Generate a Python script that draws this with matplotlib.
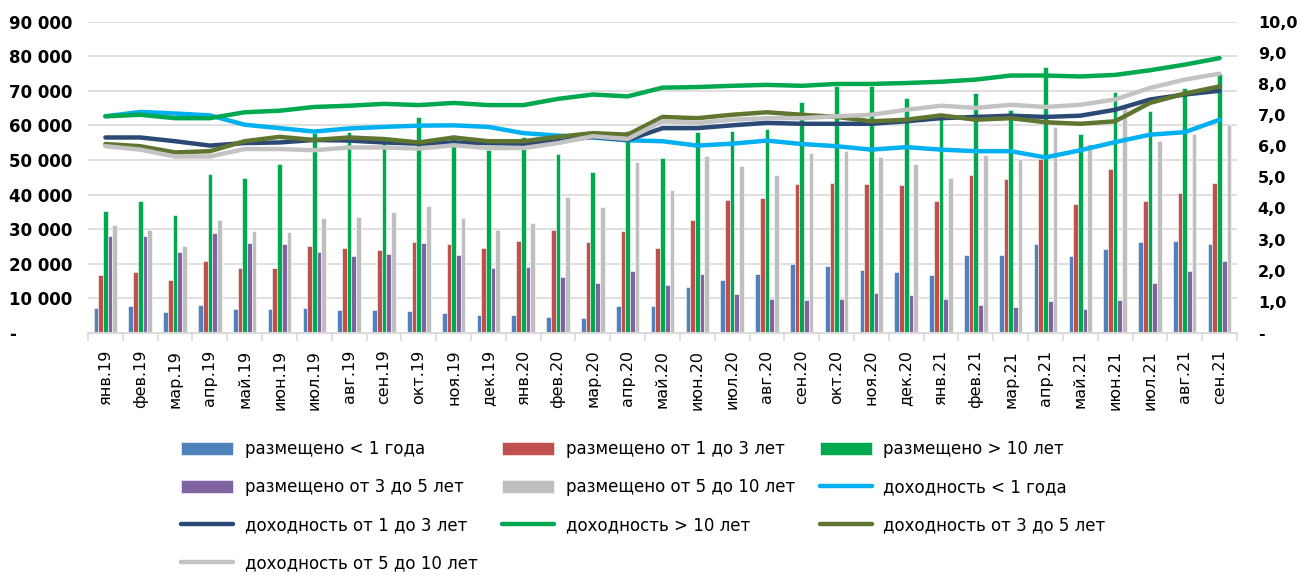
"""
Placement volumes and yields by maturity, monthly
"""
import numpy as np
import matplotlib
matplotlib.use("Agg")
import matplotlib.pyplot as plt
from matplotlib.ticker import FuncFormatter, FixedLocator

months = ["янв.19", "фев.19", "мар.19", "апр.19", "май.19", "июн.19", "июл.19",
          "авг.19", "сен.19", "окт.19", "ноя.19", "дек.19", "янв.20", "фев.20",
          "мар.20", "апр.20", "май.20", "июн.20", "июл.20", "авг.20", "сен.20",
          "окт.20", "ноя.20", "дек.20", "янв.21", "фев.21", "мар.21", "апр.21",
          "май.21", "июн.21", "июл.21", "авг.21", "сен.21"]

placed_lt1 = [7200, 7800, 6050, 8000, 6900, 7000, 7200, 6600, 6700, 6400, 5750,
              5300, 5200, 4600, 4200, 7900, 7900, 13300, 15350, 17100, 19900, 19500,
              18300, 17500, 16800, 22450, 22550, 25600, 22300, 24400, 26300, 26500, 25800]
placed_1_3 = [16800, 17750, 15250, 20700, 18700, 18900, 25100, 24600, 23900, 26200, 25600,
              24600, 26600, 29750, 26300, 29500, 24500, 32700, 38400, 39000, 43000, 43400,
              43100, 42800, 38100, 45800, 44400, 50200, 37200, 47500, 38300, 40500, 43300]
placed_gt10 = [35200, 38100, 34000, 46000, 44700, 48750, 57800, 58000, 55500, 62300, 57200,
               52900, 56600, 51650, 46450, 58500, 50500, 58200, 58400, 59000, 66700, 71500,
               71500, 67900, 62500, 69500, 64600, 76800, 57400, 69550, 64250, 70700, 75000]
placed_3_5 = [28000, 27900, 23400, 28900, 26100, 25600, 23300, 22300, 22800, 26000, 22500,
              18900, 19200, 16100, 14500, 17950, 13800, 17000, 11300, 9800, 9500, 9900,
              11500, 10900, 9900, 8000, 7600, 9300, 7000, 9400, 14500, 17950, 20700]
placed_5_10 = [31100, 29650, 25150, 32600, 29500, 29300, 33100, 33500, 34900, 36750, 33200,
               29900, 31800, 39350, 36400, 49300, 41400, 51250, 48400, 45600, 51900, 52500,
               50900, 48750, 44700, 51350, 50200, 59600, 54700, 66000, 55600, 57500, 60100]

yield_lt1 = [6.96, 7.1, 7.05, 6.99, 6.69, 6.58, 6.47, 6.57, 6.62, 6.66, 6.67, 6.62, 6.42,
             6.34, 6.28, 6.19, 6.16, 6.02, 6.08, 6.18, 6.07, 6.0, 5.89, 5.97, 5.89, 5.84,
             5.84, 5.64, 5.87, 6.13, 6.37, 6.45, 6.85]
yield_1_3 = [6.28, 6.28, 6.16, 6.02, 6.1, 6.12, 6.2, 6.18, 6.12, 6.08, 6.12, 6.1, 6.08,
             6.16, 6.3, 6.2, 6.58, 6.58, 6.67, 6.75, 6.72, 6.72, 6.72, 6.8, 6.9, 6.94,
             6.98, 6.94, 6.98, 7.17, 7.5, 7.66, 7.78]
yield_gt10 = [6.96, 7.01, 6.9, 6.9, 7.09, 7.14, 7.26, 7.3, 7.36, 7.32, 7.39, 7.32, 7.32,
              7.52, 7.66, 7.6, 7.88, 7.9, 7.94, 7.97, 7.94, 8.0, 8.0, 8.03, 8.07, 8.14,
              8.27, 8.27, 8.24, 8.29, 8.44, 8.62, 8.83]
yield_3_5 = [6.07, 6.0, 5.8, 5.84, 6.16, 6.3, 6.2, 6.28, 6.23, 6.12, 6.28, 6.16, 6.16,
             6.3, 6.42, 6.37, 6.94, 6.9, 7.01, 7.09, 7.01, 6.94, 6.8, 6.85, 6.99, 6.85,
             6.9, 6.77, 6.72, 6.8, 7.39, 7.69, 7.92]
yield_5_10 = [6.0, 5.89, 5.67, 5.67, 5.91, 5.91, 5.87, 5.96, 5.96, 5.92, 6.03, 5.94, 5.94,
              6.1, 6.32, 6.23, 6.8, 6.75, 6.85, 6.9, 6.9, 6.96, 7.01, 7.17, 7.3, 7.23,
              7.33, 7.26, 7.33, 7.5, 7.87, 8.14, 8.33]

bar_series = [
    ("размещено < 1 года", placed_lt1, "#4f81bd"),
    ("размещено от 1 до 3 лет", placed_1_3, "#c0504d"),
    ("размещено > 10 лет", placed_gt10, "#00a84f"),
    ("размещено от 3 до 5 лет", placed_3_5, "#8064a2"),
    ("размещено от 5 до 10 лет", placed_5_10, "#bfbfbf"),
]
line_series = [
    ("доходность < 1 года", yield_lt1, "#00b0f0"),
    ("доходность от 1 до 3 лет", yield_1_3, "#2a4a75"),
    ("доходность > 10 лет", yield_gt10, "#00a84f"),
    ("доходность от 3 до 5 лет", yield_3_5, "#5f7530"),
    ("доходность от 5 до 10 лет", yield_5_10, "#c3c3c3"),
]

plt.rcParams["font.family"] = ["DejaVu Sans"]

fig = plt.figure(figsize=(13, 5.75), dpi=100)
ax = fig.add_axes([0.0677, 0.4209, 0.8838, 0.5414])
ax2 = ax.twinx()

x = np.arange(len(months))
bw = 0.135
handles = []
for i, (name, vals, col) in enumerate(bar_series):
    b = ax.bar(x + (i - 2) * bw, vals, bw, color=col, edgecolor="white",
               linewidth=0.4, label=name, zorder=2)
    handles.append(b)

for name, vals, col in line_series:
    ln, = ax2.plot(x, vals, color=col, linewidth=3.2, label=name,
                   solid_capstyle="round", solid_joinstyle="round")
    handles.append(ln)

ax.set_xlim(-0.5, len(months) - 0.5)
ax.set_ylim(0, 90000)
ax2.set_ylim(0, 10)
ax.set_yticks(np.arange(0, 90001, 10000))
ax2.set_yticks(np.arange(0, 11, 1))

ax.yaxis.set_major_formatter(FuncFormatter(
    lambda v, p: "-" if v == 0 else f"{int(v):,}".replace(",", " ")))
ax2.yaxis.set_major_formatter(FuncFormatter(
    lambda v, p: "-" if v == 0 else f"{v:.1f}".replace(".", ",")))

ax.grid(axis="y", color="#d9d9d9", linewidth=1.2, zorder=0)
ax.set_axisbelow(True)

for a in (ax, ax2):
    for s in ("top", "left", "right"):
        a.spines[s].set_visible(False)
    a.spines["bottom"].set_color("#d9d9d9")
    a.spines["bottom"].set_linewidth(1.2)

ax.tick_params(axis="y", length=0, pad=57)
for lbl in ax.get_yticklabels():
    lbl.set_horizontalalignment("left")
    lbl.set_fontweight("bold")
    lbl.set_fontsize(12)
ax2.tick_params(axis="y", length=0, pad=15, labelsize=11.5)
for lbl in ax2.get_yticklabels():
    lbl.set_fontweight("bold")

# category boundaries as ticks, names at the centres
ax.xaxis.set_major_locator(FixedLocator(np.arange(-0.5, len(months), 1)))
ax.set_xticklabels([])
ax.tick_params(axis="x", which="major", length=6, color="#d9d9d9", width=1.2)
ax.xaxis.set_minor_locator(FixedLocator(x))
ax.set_xticks(x, months, minor=True)
ax.tick_params(axis="x", which="minor", length=0, pad=12, labelsize=11.5,
               labelrotation=90)

order = [0, 3, 6, 9, 1, 4, 7, 2, 5, 8]
fig.legend([handles[k] for k in order], [handles[k].get_label() for k in order],
           ncol=3, loc="upper left", bbox_to_anchor=(0.128, 0.26),
           frameon=False, fontsize=12, handlelength=3.1, handleheight=0.8,
           labelspacing=1.2, columnspacing=1.5, handletextpad=0.7)

fig.savefig("out.png", dpi=100)
